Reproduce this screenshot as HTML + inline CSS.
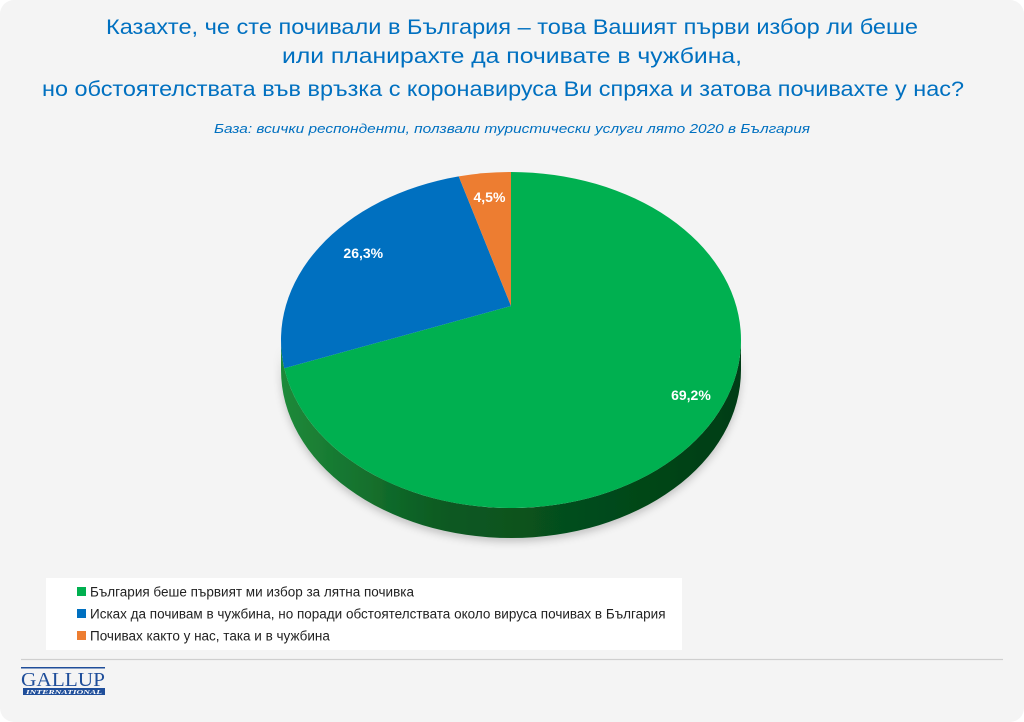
<!DOCTYPE html>
<html><head><meta charset="utf-8">
<style>
html,body{margin:0;padding:0;background:#fff;}
body{width:1024px;height:722px;overflow:hidden;}
svg{display:block;font-family:"Liberation Sans","DejaVu Sans",sans-serif;}
</style></head>
<body>
<svg id="chart" width="1024" height="722" viewBox="0 0 1024 722">
  <rect x="0" y="0" width="1024" height="722" rx="14" fill="#f4f4f4"/>
  <g fill="#0070c0" font-size="21" text-anchor="middle">
    <text x="512" y="34" textLength="812" lengthAdjust="spacingAndGlyphs">Казахте, че сте почивали в България – това Вашият първи избор ли беше</text>
    <text x="512" y="63" textLength="460" lengthAdjust="spacingAndGlyphs">или планирахте да почивате в чужбина,</text>
    <text x="503" y="96" textLength="922" lengthAdjust="spacingAndGlyphs">но обстоятелствата във връзка с коронавируса Ви спряха и затова почивахте у нас?</text>
  </g>
  <text x="512" y="133" fill="#0070c0" font-size="13" font-style="italic" text-anchor="middle" textLength="596" lengthAdjust="spacingAndGlyphs">База: всички респонденти, ползвали туристически услуги лято 2020 в България</text>
  <defs>
    <linearGradient id="side" x1="0" x2="1" y1="0" y2="0">
      <stop offset="0" stop-color="#1f8a3a"/>
      <stop offset="0.35" stop-color="#0a5a22"/>
      <stop offset="1" stop-color="#003d14"/>
    </linearGradient>
    <filter id="sh" x="-10%" y="-10%" width="120%" height="130%"><feDropShadow dx="0" dy="4" stdDeviation="4" flood-color="#000" flood-opacity="0.2"/></filter>
  </defs>
  <g id="pie"></g>
  <rect x="46" y="578" width="636" height="72" fill="#fff"/>
  <g id="legend" font-size="13.5" fill="#222"></g>
  <line x1="21" y1="659.5" x2="1003" y2="659.5" stroke="#cfcfcf" stroke-width="1.2"/>
  <g>
    <rect x="21" y="667" width="84" height="1.5" fill="#1f4e9a"/>
    <text x="63" y="686" text-anchor="middle" font-family="Liberation Serif,serif" font-size="20" fill="#1f4e9a" textLength="84" lengthAdjust="spacingAndGlyphs">GALLUP</text>
    <rect x="23" y="688" width="82" height="7" fill="#1f4e9a"/>
    <text x="64" y="694" text-anchor="middle" font-family="Liberation Serif,serif" font-size="6.5" font-style="italic" font-weight="bold" fill="#fff" textLength="76" lengthAdjust="spacingAndGlyphs">INTERNATIONAL</text>
  </g>
</svg>
<script>
const categories = ["България беше първият ми избор за лятна почивка","Исках да почивам в чужбина, но поради обстоятелствата около вируса почивах в България","Почивах както у нас, така и в чужбина"];
const values = [69.2, 26.3, 4.5];
const labels = ["69,2%","26,3%","4,5%"];
const colors = ["#00b050","#0070c0","#ed7d31"];
const NS="http://www.w3.org/2000/svg";
const pie=document.getElementById('pie');
const cx=511, cy=340, rx=230, ry=168, ax=511, ay=306, depth=30, sq=0.72;
const total=values.reduce((a,b)=>a+b,0);
function dir(frac){const t=frac*2*Math.PI;return [Math.sin(t), -Math.cos(t)*sq];}
function hit(d){
  const ux=(ax-cx)/rx, uy=(ay-cy)/ry, vx=d[0]/rx, vy=d[1]/ry;
  const a=vx*vx+vy*vy, b=2*(ux*vx+uy*vy), c=ux*ux+uy*uy-1;
  const l=(-b+Math.sqrt(b*b-4*a*c))/(2*a);
  return [ax+l*d[0], ay+l*d[1], l];
}
function param(p){let a=Math.atan2((p[0]-cx)/rx, -(p[1]-cy)/ry); if(a<0)a+=2*Math.PI; return a;}
function mk(tag,attrs){const e=document.createElementNS(NS,tag);for(const k in attrs)e.setAttribute(k,attrs[k]);return e;}
const side=mk('path',{d:`M ${cx-rx} ${cy} A ${rx} ${ry} 0 0 0 ${cx+rx} ${cy} L ${cx+rx} ${cy+depth} A ${rx} ${ry} 0 0 1 ${cx-rx} ${cy+depth} Z`,fill:'url(#side)',filter:'url(#sh)'});


pie.appendChild(side);
let cum=0;
values.forEach((v,i)=>{
  const f0=cum/total, f1=(cum+v)/total; cum+=v;
  const p0=hit(dir(f0)), p1=hit(dir(f1));
  let a0=param(p0), a1=param(p1);
  if(f0===0)a0=0; if(f1>=0.9999)a1=2*Math.PI;
  let span=a1-a0; if(span<0)span+=2*Math.PI;
  const large=span>Math.PI?1:0;
  const p=mk('path',{d:`M ${ax} ${ay} L ${p0[0]} ${p0[1]} A ${rx} ${ry} 0 ${large} 1 ${p1[0]} ${p1[1]} Z`,fill:colors[i]});
  
  
  pie.appendChild(p);
  const dm=dir((f0+f1)/2), hm=hit(dm);
  const k=(v>50)?0.86:(v<10?0.82:0.8);
  const lx=ax+dm[0]*hm[2]*k, ly=ay+dm[1]*hm[2]*k;
  const tx=mk('text',{x:lx,y:ly+5,'text-anchor':'middle','font-size':'14','font-weight':'bold',fill:'#fff'});
  tx.textContent=labels[i];
  
  
  pie.appendChild(tx);
});
const lg=document.getElementById('legend');
categories.forEach((c,i)=>{
  const y=592+i*22;
  const r=mk('rect',{x:77,y:y-5,width:9,height:9,fill:colors[i]});
  
  
  lg.appendChild(r);
  const t=mk('text',{x:90,y:y+4.5});
  t.textContent=c;
  
  
  lg.appendChild(t);
});
</script>
</body></html>
